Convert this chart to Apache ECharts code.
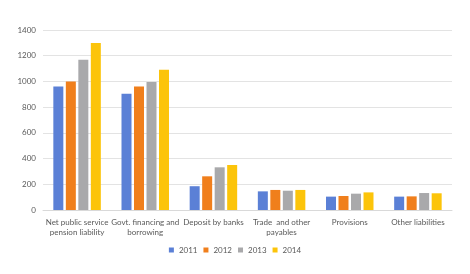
<!DOCTYPE html>
<html><head><meta charset="utf-8">
<script src="https://cdn.jsdelivr.net/npm/echarts@6/dist/echarts.min.js"></script>
<style>html,body{margin:0;padding:0;background:#fff}#c{width:470px;height:274px}</style>
</head><body><div id="c"></div>
<script>
const categories = ["Net public service\npension liability", "Govt. financing and\nborrowing", "Deposit by banks", "Trade  and other\npayables", "Provisions", "Other liabilities"];
const years = ["2011", "2012", "2013", "2014"];
const v2011 = [960, 905, 185, 145, 104, 104];
const v2012 = [1000, 960, 262, 156, 109, 106];
const v2013 = [1168, 995, 332, 150, 127, 132];
const v2014 = [1298, 1090, 350, 156, 137, 130];
const yTicks = [0, 200, 400, 600, 800, 1000, 1200, 1400];
const colors = ["#5b80d6", "#f07f1c", "#a9a9ab", "#fcc40a"];
const seriesValues = [v2011, v2012, v2013, v2014];

const chart = echarts.init(document.getElementById('c'), null, {renderer: 'canvas'});
chart.setOption({
  animation: false,
  color: colors,
  grid: {left: 43, right: 18, top: 30, bottom: 64},
  legend: {
    data: years, bottom: 15, left: 'center', itemWidth: 5, itemHeight: 5, itemGap: 6,
    textStyle: {fontSize: 8, color: '#595959', fontFamily: 'Lato'}, icon: 'rect'
  },
  xAxis: {
    type: 'category', data: categories,
    axisLine: {lineStyle: {color: '#d9d9d9'}}, axisTick: {show: false},
    axisLabel: {fontSize: 8, color: '#595959', lineHeight: 10, interval: 0, margin: 7, fontFamily: 'Lato'}
  },
  yAxis: {
    type: 'value', min: yTicks[0], max: yTicks[yTicks.length - 1], interval: 200,
    axisLine: {show: false}, axisTick: {show: false},
    splitLine: {lineStyle: {color: '#e3e3e3'}},
    axisLabel: {fontSize: 8, color: '#595959', margin: 7, fontFamily: 'Lato', formatter: v => String(v)}
  },
  series: years.map((y, i) => ({
    name: y, type: 'bar', data: seriesValues[i], barWidth: 10, barGap: '25%'
  }))
});
</script></body></html>
